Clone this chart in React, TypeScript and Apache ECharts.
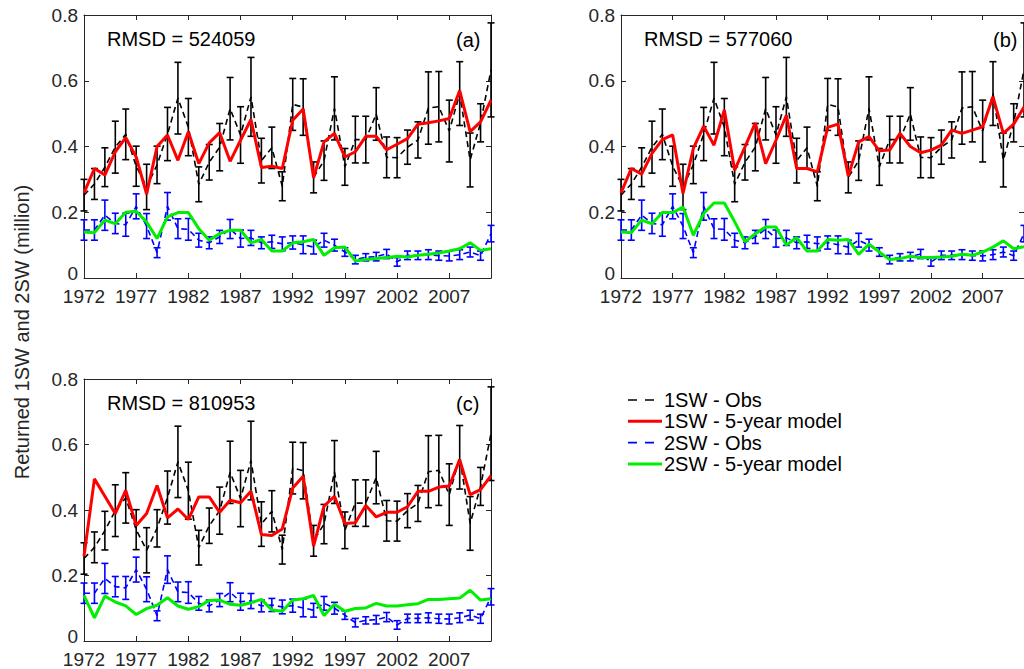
import React, { useEffect, useRef } from "react";
import * as echarts from "echarts";

const years = [
  "1972", "1973", "1974", "1975", "1976", "1977", "1978", "1979", "1980", "1981",
  "1982", "1983", "1984", "1985", "1986", "1987", "1988", "1989", "1990", "1991",
  "1992", "1993", "1994", "1995", "1996", "1997", "1998", "1999", "2000", "2001",
  "2002", "2003", "2004", "2005", "2006", "2007", "2008", "2009", "2010", "2011",
];

// 1SW observations (million) and half-width of error bars
const obs1SW = [
  0.252, 0.286, 0.337, 0.398, 0.437, 0.340, 0.277, 0.344, 0.438, 0.547,
  0.459, 0.285, 0.352, 0.398, 0.515, 0.435, 0.551, 0.357, 0.396, 0.279,
  0.528, 0.520, 0.306, 0.357, 0.516, 0.338, 0.421, 0.421, 0.499, 0.367,
  0.366, 0.398, 0.420, 0.517, 0.521, 0.447, 0.561, 0.359, 0.472, 0.633,
];
const err1SW = [
  0.048, 0.047, 0.059, 0.079, 0.077, 0.061, 0.069, 0.057, 0.081, 0.109,
  0.087, 0.053, 0.054, 0.072, 0.095, 0.086, 0.120, 0.068, 0.063, 0.044,
  0.079, 0.086, 0.047, 0.060, 0.096, 0.056, 0.071, 0.071, 0.080, 0.062,
  0.061, 0.052, 0.055, 0.110, 0.107, 0.094, 0.097, 0.082, 0.058, 0.143,
];

// 2SW observations (million) and half-width of error bars
const obs2SW = [
  0.146, 0.146, 0.191, 0.166, 0.162, 0.218, 0.158, 0.077, 0.218, 0.150,
  0.148, 0.115, 0.107, 0.125, 0.149, 0.120, 0.122, 0.107, 0.110, 0.104,
  0.108, 0.101, 0.094, 0.115, 0.100, 0.079, 0.056, 0.063, 0.065, 0.073,
  0.049, 0.069, 0.069, 0.071, 0.068, 0.067, 0.071, 0.079, 0.068, 0.135,
];
const err2SW = [
  0.031, 0.031, 0.046, 0.031, 0.035, 0.038, 0.038, 0.015, 0.042, 0.030,
  0.033, 0.021, 0.018, 0.020, 0.029, 0.026, 0.023, 0.018, 0.020, 0.021,
  0.020, 0.027, 0.021, 0.021, 0.018, 0.013, 0.013, 0.011, 0.013, 0.014,
  0.013, 0.013, 0.013, 0.015, 0.014, 0.015, 0.015, 0.015, 0.014, 0.025,
];

// Panel (a) model
const model1SW_a = [
  0.259, 0.333, 0.313, 0.384, 0.427, 0.368, 0.255, 0.400, 0.435, 0.358,
  0.445, 0.348, 0.411, 0.442, 0.355, 0.419, 0.482, 0.336, 0.340, 0.333,
  0.480, 0.514, 0.305, 0.414, 0.440, 0.368, 0.384, 0.431, 0.431, 0.390,
  0.407, 0.424, 0.468, 0.472, 0.478, 0.485, 0.570, 0.445, 0.475, 0.541,
];
const model2SW_a = [
  0.140, 0.138, 0.176, 0.165, 0.200, 0.203, 0.170, 0.120, 0.186, 0.199,
  0.199, 0.150, 0.115, 0.135, 0.145, 0.145, 0.107, 0.117, 0.082, 0.082,
  0.107, 0.110, 0.117, 0.069, 0.092, 0.094, 0.052, 0.056, 0.059, 0.062,
  0.066, 0.064, 0.069, 0.072, 0.076, 0.082, 0.089, 0.107, 0.084, 0.089,
];

// Panel (b) model
const model1SW_b = [
  0.259, 0.333, 0.316, 0.379, 0.421, 0.435, 0.257, 0.394, 0.462, 0.404,
  0.511, 0.328, 0.399, 0.472, 0.348, 0.419, 0.495, 0.333, 0.333, 0.323,
  0.458, 0.468, 0.310, 0.414, 0.430, 0.387, 0.389, 0.440, 0.400, 0.381,
  0.389, 0.404, 0.450, 0.440, 0.450, 0.460, 0.551, 0.440, 0.468, 0.520,
];
const model2SW_b = [
  0.140, 0.138, 0.176, 0.165, 0.199, 0.199, 0.216, 0.130, 0.196, 0.228,
  0.228, 0.171, 0.110, 0.135, 0.155, 0.155, 0.100, 0.123, 0.082, 0.082,
  0.117, 0.115, 0.117, 0.072, 0.103, 0.079, 0.056, 0.059, 0.066, 0.062,
  0.062, 0.064, 0.066, 0.072, 0.069, 0.079, 0.094, 0.113, 0.089, 0.095,
];

// Panel (c) model
const model1SW_c = [
  0.259, 0.495, 0.442, 0.389, 0.460, 0.353, 0.389, 0.475, 0.376, 0.403,
  0.371, 0.440, 0.440, 0.393, 0.430, 0.422, 0.457, 0.325, 0.322, 0.342,
  0.467, 0.503, 0.290, 0.412, 0.442, 0.359, 0.361, 0.414, 0.379, 0.393,
  0.393, 0.410, 0.457, 0.457, 0.470, 0.473, 0.554, 0.447, 0.462, 0.505,
];
const model2SW_c = [
  0.139, 0.071, 0.137, 0.119, 0.107, 0.081, 0.099, 0.109, 0.132, 0.107,
  0.097, 0.105, 0.124, 0.125, 0.112, 0.109, 0.117, 0.127, 0.095, 0.091,
  0.125, 0.129, 0.139, 0.078, 0.112, 0.091, 0.099, 0.101, 0.115, 0.107,
  0.107, 0.111, 0.114, 0.127, 0.127, 0.129, 0.131, 0.155, 0.125, 0.129,
];

const rmsdLabels = ["RMSD = 524059", "RMSD = 577060", "RMSD = 810953"];
const panelLabels = ["(a)", "(b)", "(c)"];
const legendLabels = ["1SW - Obs", "1SW - 5-year model", "2SW - Obs", "2SW - 5-year model"];
const yAxisTitle = "Returned 1SW and 2SW (million)";

const FONT = "'Liberation Sans', Arial, Helvetica, sans-serif";
const AXIS_COLOR = "#262626";
const C_BLACK = "#000000";
const C_RED = "#ff0000";
const C_BLUE = "#0000ff";
const C_GREEN = "#00ee00";

const grids = [
  { left: 84, top: 15, width: 407, height: 263 },
  { left: 621, top: 15, width: 407, height: 263 },
  { left: 84, top: 379, width: 407, height: 263 },
];

const models = [
  [model1SW_a, model2SW_a],
  [model1SW_b, model2SW_b],
  [model1SW_c, model2SW_c],
];

function errorBarSeries(name: string, g: number, vals: number[], errs: number[], color: string) {
  return {
    name,
    type: "custom",
    xAxisIndex: 2 * g,
    yAxisIndex: 2 * g,
    encode: { x: 0, y: [1] },
    data: vals.map((v, i) => [i, v, errs[i]]),
    renderItem: (params: any, api: any) => {
      const i = api.value(0);
      const m = api.value(1);
      const e = api.value(2);
      const top = api.coord([i, m + e]);
      const bot = api.coord([i, m - e]);
      const hw = 3.5;
      const style = { stroke: color, lineWidth: 1.6 };
      return {
        type: "group",
        children: [
          { type: "line", shape: { x1: top[0], y1: top[1], x2: bot[0], y2: bot[1] }, style },
          { type: "line", shape: { x1: top[0] - hw, y1: top[1], x2: top[0] + hw, y2: top[1] }, style },
          { type: "line", shape: { x1: bot[0] - hw, y1: bot[1], x2: bot[0] + hw, y2: bot[1] }, style },
        ],
      };
    },
    z: 2,
  };
}

function lineSeries(name: string, g: number, vals: number[], color: string, width: number, dashed: boolean, z: number) {
  return {
    name,
    type: "line",
    xAxisIndex: 2 * g,
    yAxisIndex: 2 * g,
    data: vals,
    symbol: "none",
    lineStyle: { color, width, type: dashed ? [6, 4] : "solid" },
    z,
  };
}

function buildOption() {
  const xAxis: any[] = [];
  const yAxis: any[] = [];
  const series: any[] = [];
  const graphic: any[] = [];

  grids.forEach((_, g) => {
    xAxis.push({
      type: "category",
      gridIndex: g,
      data: years,
      boundaryGap: false,
      position: "bottom",
      axisLine: { show: true, onZero: false, lineStyle: { color: AXIS_COLOR, width: 1 } },
      axisTick: { show: true, inside: true, length: 5, interval: 4, lineStyle: { color: AXIS_COLOR } },
      axisLabel: { show: true, interval: 4, fontSize: 19, color: AXIS_COLOR, fontFamily: FONT, margin: 9 },
      splitLine: { show: false },
    });
    xAxis.push({
      type: "category",
      gridIndex: g,
      data: years,
      boundaryGap: false,
      position: "top",
      axisLine: { show: true, onZero: false, lineStyle: { color: AXIS_COLOR, width: 1 } },
      axisTick: { show: true, inside: true, length: 5, interval: 4, lineStyle: { color: AXIS_COLOR } },
      axisLabel: { show: false },
      splitLine: { show: false },
    });
    yAxis.push({
      type: "value",
      gridIndex: g,
      min: 0,
      max: 0.8,
      interval: 0.2,
      position: "left",
      axisLine: { show: true, onZero: false, lineStyle: { color: AXIS_COLOR, width: 1 } },
      axisTick: { show: true, inside: true, length: 5, lineStyle: { color: AXIS_COLOR } },
      axisLabel: {
        show: true,
        fontSize: 19,
        color: AXIS_COLOR,
        fontFamily: FONT,
        margin: 6,
        formatter: (v: number) => (v === 0 ? "{z|0}" : v.toFixed(1)),
        rich: {
          z: { fontSize: 19, fontFamily: FONT, color: AXIS_COLOR, padding: [0, 0, 9, 0] },
        },
      },
      splitLine: { show: false },
    });
    yAxis.push({
      type: "value",
      gridIndex: g,
      min: 0,
      max: 0.8,
      interval: 0.2,
      position: "right",
      axisLine: { show: true, onZero: false, lineStyle: { color: AXIS_COLOR, width: 1 } },
      axisTick: { show: true, inside: true, length: 5, lineStyle: { color: AXIS_COLOR } },
      axisLabel: { show: false },
      splitLine: { show: false },
    });

    series.push(errorBarSeries(legendLabels[0], g, obs1SW, err1SW, C_BLACK));
    series.push(lineSeries(legendLabels[0] + " line", g, obs1SW, C_BLACK, 1.6, true, 2));
    series.push(errorBarSeries(legendLabels[2], g, obs2SW, err2SW, C_BLUE));
    series.push(lineSeries(legendLabels[2] + " line", g, obs2SW, C_BLUE, 1.6, true, 2));
    series.push(lineSeries(legendLabels[1], g, models[g][0], C_RED, 3, false, 3));
    series.push(lineSeries(legendLabels[3], g, models[g][1], C_GREEN, 3, false, 3));

    const gr = grids[g];
    graphic.push({
      type: "text",
      left: gr.left + 23,
      top: gr.top + 14,
      style: { text: rmsdLabels[g], fontSize: 20, fontFamily: FONT, fill: C_BLACK },
      z: 10,
    });
    graphic.push({
      type: "text",
      left: gr.left + 372,
      top: gr.top + 15,
      style: { text: panelLabels[g], fontSize: 20, fontFamily: FONT, fill: C_BLACK },
      z: 10,
    });
  });

  graphic.push({
    type: "text",
    x: 22,
    y: 332,
    rotation: Math.PI / 2,
    style: {
      text: yAxisTitle,
      fontSize: 20,
      fontFamily: FONT,
      fill: AXIS_COLOR,
      align: "center",
      verticalAlign: "middle",
    },
  });

  const legendColors = [C_BLACK, C_RED, C_BLUE, C_GREEN];
  const legendDashed = [true, false, true, false];
  const legendY0 = 400;
  const legendStep = 21.3;
  legendLabels.forEach((lab, k) => {
    const y = legendY0 + k * legendStep;
    graphic.push({
      type: "line",
      shape: { x1: 628, y1: y, x2: 662, y2: y },
      style: {
        stroke: legendColors[k],
        lineWidth: legendDashed[k] ? 1.6 : 3,
        lineDash: legendDashed[k] ? [9, 8] : null,
      },
    });
    graphic.push({
      type: "text",
      x: 664,
      y,
      style: {
        text: lab,
        fontSize: 20,
        fontFamily: FONT,
        fill: C_BLACK,
        verticalAlign: "middle",
        align: "left",
      },
    });
  });

  return {
    animation: false,
    backgroundColor: "#ffffff",
    grid: grids.map((g) => ({ ...g, containLabel: false })),
    xAxis,
    yAxis,
    series,
    graphic,
  };
}

export default function App() {
  const ref = useRef<HTMLDivElement | null>(null);
  useEffect(() => {
    document.body.style.margin = "0";
    if (!ref.current) return;
    const chart = echarts.init(ref.current, undefined, { renderer: "svg" });
    chart.setOption(buildOption() as any);
    return () => {
      chart.dispose();
    };
  }, []);
  return <div ref={ref} style={{ width: 1024, height: 669, overflow: "hidden" }} />;
}
